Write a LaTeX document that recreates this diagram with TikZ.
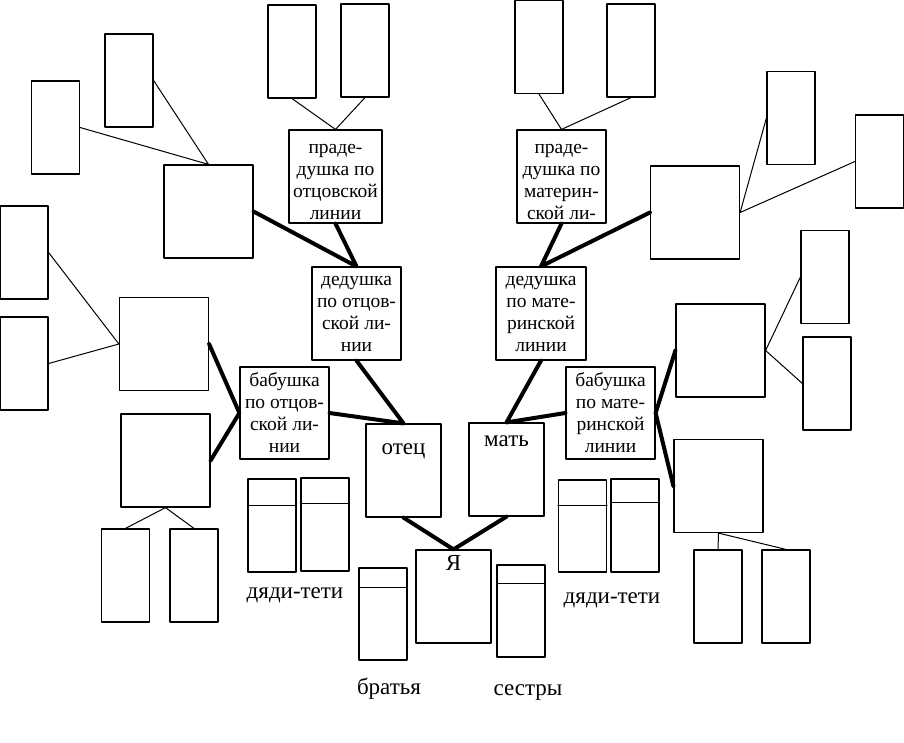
\documentclass[tikz,border=0pt]{standalone}
\usepackage{fontspec}
\setmainfont{Liberation Serif}
\begin{document}
\begin{tikzpicture}[x=1pt, y=-1pt, line join=round, line cap=round,
	box/.style={draw, line width=1.2pt, inner sep=0pt},
	tall/.style={box, minimum width=48pt, minimum height=93pt},
	big/.style={box, minimum width=89pt, minimum height=93pt},
	kin/.style={box, minimum width=75pt, minimum height=93pt},
	txt/.style={big, align=center, font=\fontsize{19.5}{22}\selectfont},
	twig/.style={line width=1pt},
	branch/.style={line width=4pt},
	lbl/.style={font=\fontsize{23}{26}\selectfont}]
	\useasboundingbox (0,0) rectangle (904,742);
	\def\topgap{\rule{0pt}{20pt}}
	% empty boxes
	\foreach \n/\x/\y in {a/129/80.5, b/55.5/127.5, d/292/51.5, e/365/50.5, f/24/252.5, g/24/363.5,
		r/125.5/575.5, s/194/575.5, i/539/47, j/631/50.5, l/791/118, m/879.5/161.5,
		o/825/277, p/827/383.5, u/718/596.5, v/786/596.5}
		\node[tall] (\n) at (\x,\y) {};
	\foreach \n/\x/\y in {c/208.5/211.5, h/164/344, q/165.5/460.5, k/695/212.5, n/720.5/350.5, nn/718.5/486}
		\node[big] (\n) at (\x,\y) {};
	% boxes with a top strip
	\foreach \n/\x/\y/\h/\d in {ua/272/525.5/93/27, ub/325/524.5/93/26, uc/582.5/526/92/26, ud/635/525.5/93/24,
		br/383/614/92/20, si/521/611/92/19}{
		\node[tall, minimum height=\h pt] (\n) at (\x,\y) {};
		\draw[line width=1.2pt] ([yshift=-\d pt]\n.north west) -- ([yshift=-\d pt]\n.north east);
	}
	% named boxes
	\node[txt, minimum width=93pt] (pf) at (335.5,176.5) {\topgap праде-\\душка по\\отцовской\\линии};
	\node[txt] (pm) at (561.5,176.5) {\topgap праде-\\душка по\\материн-\\ской ли-};
	\node[txt] (df) at (356.5,313.5) {дедушка\\по отцов-\\ской ли-\\нии};
	\node[txt, minimum width=90pt] (dm) at (541,313.5) {дедушка\\по мате-\\ринской\\линии};
	\node[txt, minimum height=92pt] (bf) at (284.5,413) {бабушка\\по отцов-\\ской ли-\\нии};
	\node[txt, minimum height=92pt] (bm) at (610.5,413) {бабушка\\по мате-\\ринской\\линии};
	\node[kin, label={[lbl, anchor=north, yshift=-17pt]north:отец}] (father) at (403.5,470.5) {};
	\node[kin, label={[lbl, anchor=north, yshift=-10pt]north:мать}] (mother) at (506.5,469.5) {};
	\node[kin, label={[lbl, anchor=north, yshift=-2pt]north:Я}] (me) at (453.5,596.5) {};
	\node[lbl] (ul) at (295,595) {дяди-тети};
	\node[lbl] (ur) at (612,600) {дяди-тети};
	\node[lbl, anchor=base] (brl) at (389,694) {братья};
	\node[lbl, anchor=base] (sil) at (528,695) {сестры};
	% thin links
	\draw[twig] (a.east) -- (c.north) -- (b.east);
	\draw[twig] (d.south) -- (pf.north) -- (e.south);
	\draw[twig] (f.east) -- (h.west) -- (g.east);
	\draw[twig] (r.north) -- (q.south) -- (s.north);
	\draw[twig] (i.south) -- (pm.north) -- (j.south);
	\draw[twig] (l.west) -- (k.east) -- (m.west);
	\draw[twig] (o.west) -- (n.east) -- (p.west);
	\draw[twig] (u.north) -- (nn.south) -- (v.north);
	% thick links
	\draw[branch] (c.east) -- (df.north) -- (pf.south);
	\draw[branch] (h.east) -- (bf.west) -- (q.east);
	\draw[branch] (df.south) -- (father.north) -- (bf.east);
	\draw[branch] (k.west) -- (dm.north) -- (pm.south);
	\draw[branch] (n.west) -- (bm.east) -- (nn.west);
	\draw[branch] (dm.south) -- (mother.north) -- (bm.west);
	\draw[branch] (father.south) -- (me.north) -- (mother.south);
\end{tikzpicture}
\end{document}
